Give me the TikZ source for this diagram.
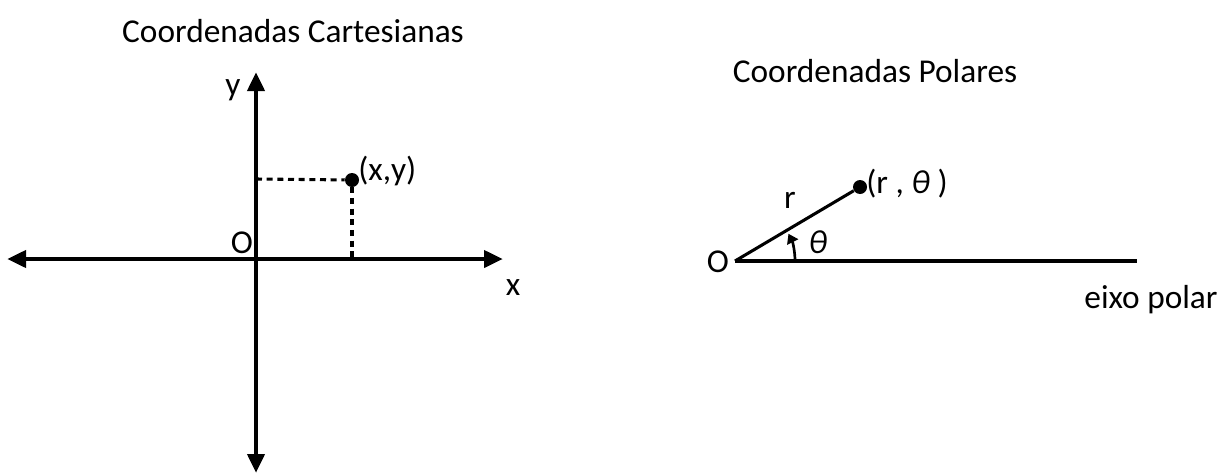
\documentclass[tikz,border=0pt]{standalone}
\usepackage{fontspec}
\setmainfont{Carlito}
\usetikzlibrary{arrows.meta}
\begin{document}
\begin{tikzpicture}[x=0.75pt,y=-0.75pt,
  axis/.style={line width=2.3pt,-{Triangle[length=14pt,width=13pt]},shorten >=-2pt},
  lbl/.style={font=\fontsize{25}{30}\selectfont,inner sep=0pt},
  dotpt/.style={circle,fill=black,minimum size=10.5pt,inner sep=0pt},
  guide/.style={line width=2.3pt,dash pattern=on 4.5pt off 3.5pt}]
\useasboundingbox (0,0) rectangle (1219,475);
% Cartesian
\coordinate (C) at (256,259);
\coordinate (ytip) at (256,75);
\coordinate (ybot) at (256,470);
\coordinate (xleft) at (10,259);
\coordinate (xright) at (500,259);
\coordinate (yfoot) at (256,179);
\coordinate (xfoot) at (352,259);
\node[lbl] (t1) at (293,31) {Coordenadas Cartesianas};
\draw[axis] (C) -- (ytip);
\draw[axis] (C) -- (ybot);
\draw[axis] (C) -- (xleft);
\draw[axis] (C) -- (xright);
\node[dotpt] (P) at (352,180) {};
\draw[guide] (yfoot) -- (P);
\draw[guide] (P) -- (xfoot);
\node[lbl,anchor=west] (Pl) at (358,171) {(x,y)};
\node[lbl] (ylab) at (233,90) {y};
\node[lbl] (Olab) at (242,243) {O};
\node[lbl] (xlab) at (513,288) {x};
% Polar
\node[lbl] (t2) at (875,71) {Coordenadas Polares};
\coordinate (O) at (735,261);
\coordinate (axend) at (1137,261);
\draw[line width=2.3pt] (O) -- (axend);
\node[dotpt] (Q) at (860,187) {};
\draw[line width=2.3pt] (O) -- (Q);
\node[lbl,anchor=west] (Ql) at (866,184) {(r , \textit{θ} )};
\node[lbl] (rlab) at (790,200) {r};
\node[lbl] (Olab2) at (718,262) {O};
\node[lbl] (th) at (818,242) {\textit{θ}};
\node[lbl] (eixo) at (1151,300) {eixo polar};
\draw[line width=2pt,-{Triangle[length=7pt,width=9pt]}] ([xshift=60*0.75pt]O) arc[start angle=0,end angle=-27,radius=60];
\end{tikzpicture}
\end{document}
